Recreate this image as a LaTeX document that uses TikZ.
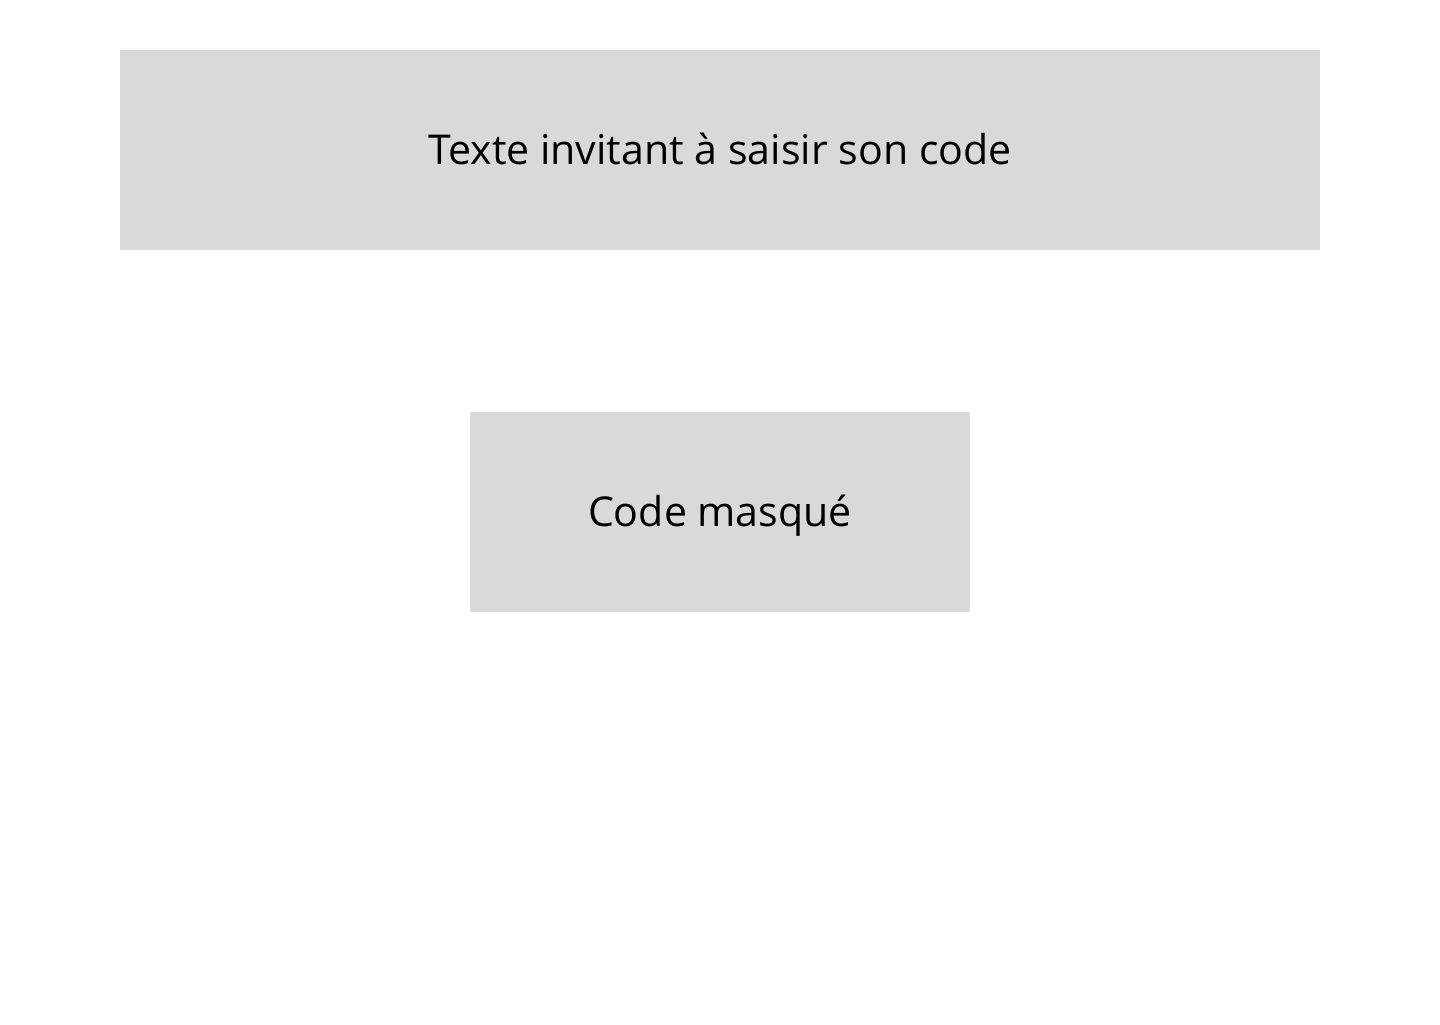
\documentclass[tikz,border=0pt]{standalone}
\usepackage{fontspec}
\setmainfont{Open Sans}
\definecolor{boxgray}{RGB}{217,217,217}
\usetikzlibrary{positioning}

\begin{document}
\begin{tikzpicture}[
  greybox/.style={rectangle, fill=boxgray, inner sep=0pt, minimum height=2cm,
    text height=1.1em, text depth=0.25em, font=\fontsize{11.7}{14}\selectfont}
]
% Canvas
\useasboundingbox (0,0) rectangle (14.4,10.24);

% Prompt box and masked code box
\node[greybox, minimum width=12cm] (prompt) at (7.2,8.74) {Texte invitant à saisir son code};
\node[greybox, minimum width=5cm] (masked) at (7.2,5.12) {Code masqué};
\end{tikzpicture}
\end{document}
